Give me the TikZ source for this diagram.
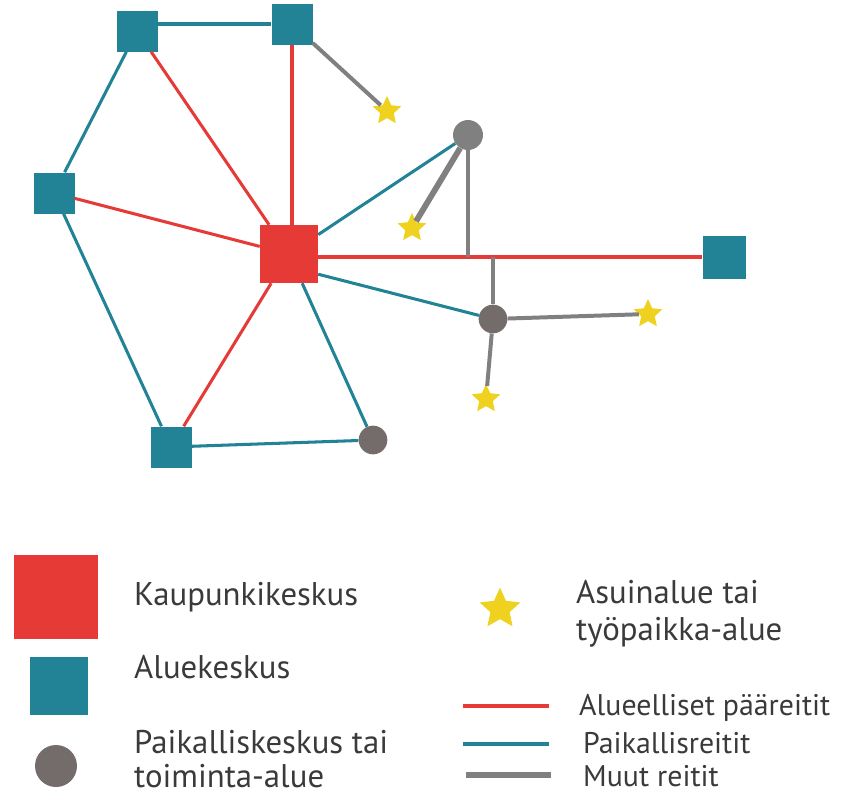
\documentclass[tikz,border=0pt]{standalone}
\usepackage{fontspec}
\setmainfont{PT Sans}
\usetikzlibrary{shapes.geometric}

\definecolor{kred}{RGB}{229,58,54}
\definecolor{kteal}{RGB}{33,131,149}
\definecolor{kgray}{RGB}{128,128,128}
\definecolor{kbrown}{RGB}{116,108,106}
\definecolor{kyellow}{RGB}{238,210,31}
\definecolor{ktext}{RGB}{58,58,58}

\begin{document}
\begin{tikzpicture}[x=0.3mm, y=-0.3mm,
    citycentre/.style={rectangle, fill=kred, minimum size=17.4mm, inner sep=0pt},
    areacentre/.style={rectangle, fill=kteal, minimum size=12.3mm, inner sep=0pt},
    localcentre/.style={circle, fill=kbrown, minimum size=8.6mm, inner sep=0pt},
    homestar/.style={star, star points=5, star point ratio=2.1, fill=kyellow,
        minimum size=9mm, inner sep=0pt},
    mainroute/.style={kred, line width=2.6pt},
    localroute/.style={kteal, line width=2.6pt},
    otherroute/.style={kgray, line width=3.4pt},
    legendtext/.style={anchor=base west, text=ktext, inner sep=0pt,
        font=\fontsize{28}{33}\selectfont},
    routetext/.style={legendtext, font=\fontsize{25.5}{30}\selectfont}
]

    % Fix the margins of the picture
    \useasboundingbox (0,0) rectangle (853,796);

    % Draw the centres
    \node[citycentre] (K) at (289,254) {};
    \node[areacentre] (A1) at (137,31) {};
    \node[areacentre] (A2) at (292,24) {};
    \node[areacentre] (A3) at (54,193) {};
    \node[areacentre] (A4) at (171,447) {};
    \node[areacentre, minimum size=12.9mm] (A5) at (724,257) {};
    \node[localcentre] (P1) at (373,440) {};
    \node[localcentre, fill=kgray, minimum size=9mm] (P2) at (468,135) {};
    \node[localcentre] (P3) at (493,319) {};

    % Residential and work areas
    \node[homestar] (S1) at (387,111) {};
    \node[homestar] (S2) at (412,228) {};
    \node[homestar] (S3) at (648,314) {};
    \node[homestar] (S4) at (486,399) {};

    % Regional main routes
    \draw[mainroute] (K) -- (A1);
    \draw[mainroute] (K.north -| A2) -- (A2);
    \draw[mainroute] (K) -- (A3);
    \draw[mainroute] (K) -- (A4);
    \draw[mainroute] (K.east |- A5) -- (A5);

    % Local routes
    \draw[localroute] (A1.east |- A2) -- (A2);
    \draw[localroute] (A1) -- (A3);
    \draw[localroute] (A3) -- (A4);
    \draw[localroute] (A4) -- (P1);
    \draw[localroute] (K) -- (P1);
    \draw[localroute] (K) -- (P2);
    \draw[localroute] ([yshift=2.7mm]K.south east) -- (P3);

    % Other routes
    \coordinate (J1) at (P2 |- A5);
    \coordinate (J2) at (P3 |- A5);
    \draw[otherroute] (A2) -- (S1);
    \draw[otherroute, line width=5pt] (P2) -- (S2);
    \draw[otherroute] (P2) -- (J1);
    \draw[otherroute] (P3) -- (J2);
    \draw[otherroute] (P3) -- (S3);
    \draw[otherroute] (P3) -- (S4);

    % Legend symbols
    \node[citycentre, minimum size=25.1mm] (Lk) at (56,597) {};
    \node[areacentre, minimum size=17.6mm] (La) at (59,686) {};
    \node[localcentre, minimum size=12.6mm] (Lp) at (56,766) {};
    \node[homestar, minimum size=12.8mm] (Ls) at (500,609) {};
    \draw[mainroute, line width=3.4pt] (463,706) -- (549,706);
    \draw[localroute, line width=3.4pt] (463,744) -- (549,744);
    \draw[otherroute, line width=5pt] (466,775) -- (551,775);

    % Legend texts
    \node[legendtext] (tk) at (134,605) {Kaupunkikeskus};
    \node[legendtext] (ta) at (134,678) {Aluekeskus};
    \node[legendtext] (tp1) at (134,753) {Paikalliskeskus tai};
    \node[legendtext] (tp2) at (134,787) {toiminta-alue};
    \node[legendtext] (ts1) at (576,603) {Asuinalue tai};
    \node[legendtext] (ts2) at (576,640) {työpaikka-alue};
    \node[routetext] (tr1) at (579,715) {Alueelliset pääreitit};
    \node[routetext] (tr2) at (583,753) {Paikallisreitit};
    \node[routetext] (tr3) at (583,786) {Muut reitit};
\end{tikzpicture}
\end{document}
